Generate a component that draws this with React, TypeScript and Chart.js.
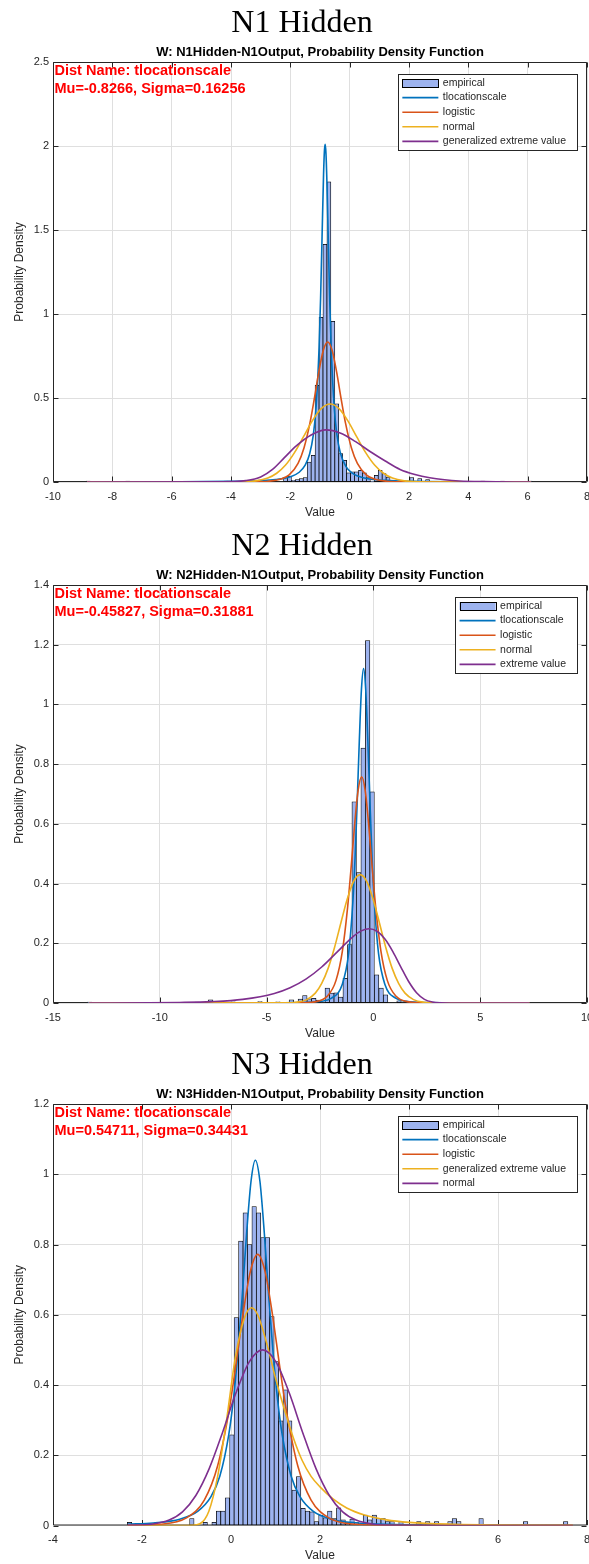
import React, { useEffect, useRef } from 'react';
import { Chart, registerables } from 'chart.js';

Chart.register(...registerables);

const SANS = '"Liberation Sans", Arial, Helvetica, sans-serif';
const SERIF = '"Liberation Serif", "Times New Roman", serif';
const AXIS_COLOR = '#262626';
const GRID_COLOR = '#dfdfdf';
const HIST_FACE = '#9db3ef';
const CURVE_COLORS = ['#0072BD', '#D95319', '#EDB120', '#7E2F8E'];

// ---------------- Panel 1 ----------------
const p1Title = 'N1 Hidden';
const p1Subtitle = 'W: N1Hidden-N1Output, Probability Density Function';
const p1Info = ['Dist Name: tlocationscale', 'Mu=-0.8266, Sigma=0.16256'];
const p1Legend = ['empirical', 'tlocationscale', 'logistic', 'normal', 'generalized extreme value'];
const p1XAxis = [-10, 8, 2];
const p1YAxis = [0, 2.5, 0.5];
const p1BinCenters = [-8.813, -7.483, -5.355, -4.158, -2.163, -2.03, -1.897, -1.764, -1.631, -1.498, -1.365, -1.232, -1.099, -0.966, -0.833, -0.7, -0.567, -0.434, -0.301, -0.168, -0.035, 0.098, 0.231, 0.364, 0.497, 0.63, 0.763, 0.896, 1.029, 1.162, 1.295, 2.093, 2.36, 2.626, 3.423, 4.487, 5.152, 6.083];
const p1BinDensity = [0.006, 0.006, 0.004, 0.006, 0.026, 0.034, 0.01, 0.014, 0.02, 0.026, 0.119, 0.159, 0.575, 0.98, 1.415, 1.786, 0.956, 0.466, 0.169, 0.129, 0.054, 0.06, 0.06, 0.069, 0.054, 0.026, 0.005, 0.04, 0.069, 0.05, 0.03, 0.026, 0.02, 0.015, 0.006, 0.006, 0.006, 0.006];
const p1TlsX = [-8.85, -6, -4, -3, -2.5, -2, -1.7, -1.5, -1.35, -1.23, -1.13, -1.03, -0.98, -0.93, -0.88, -0.85, -0.827, -0.8, -0.77, -0.72, -0.67, -0.62, -0.52, -0.43, -0.32, -0.13, 0.1, 0.5, 1.2, 2.2, 4, 6.1];
const p1TlsY = [0.0005, 0.0012, 0.0037, 0.0081, 0.0144, 0.031, 0.058, 0.1, 0.167, 0.274, 0.45, 0.804, 1.094, 1.463, 1.831, 1.974, 2.01, 1.96, 1.805, 1.433, 1.067, 0.785, 0.441, 0.282, 0.177, 0.093, 0.051, 0.024, 0.0094, 0.004, 0.0014, 0.0006];
const p1LogX = [-8.85, -4, -3.24, -2.74, -2.34, -2.04, -1.74, -1.54, -1.34, -1.19, -1.04, -0.89, -0.74, -0.59, -0.44, -0.29, -0.14, 0.06, 0.26, 0.56, 0.86, 1.26, 1.76, 3, 6.1];
const p1LogY = [0, 0.00005, 0.001, 0.0042, 0.016, 0.0426, 0.111, 0.2025, 0.35, 0.497, 0.655, 0.783, 0.833, 0.783, 0.655, 0.497, 0.35, 0.2025, 0.111, 0.0426, 0.016, 0.0042, 0.001, 0.00005, 0];
const p1NormX = [-8.85, -4.16, -3.66, -3.16, -2.76, -2.46, -2.16, -1.86, -1.56, -1.26, -0.96, -0.66, -0.36, -0.06, 0.24, 0.54, 0.84, 1.14, 1.44, 1.84, 2.34, 2.84, 6.1];
const p1NormY = [0, 0.0001, 0.001, 0.0068, 0.0235, 0.052, 0.101, 0.175, 0.268, 0.364, 0.437, 0.464, 0.437, 0.364, 0.268, 0.175, 0.101, 0.052, 0.0235, 0.0068, 0.001, 0.0001, 0];
const p1GevX = [-8.85, -4.5, -4, -3.5, -3, -2.6, -2.2, -1.8, -1.3, -0.8, -0.3, 0.2, 0.7, 1.2, 1.7, 2.2, 2.7, 3.2, 3.7, 4.5, 6.1];
const p1GevY = [0, 0.0005, 0.002, 0.008, 0.03, 0.075, 0.145, 0.215, 0.28, 0.31, 0.29, 0.24, 0.18, 0.125, 0.075, 0.045, 0.025, 0.013, 0.006, 0.002, 0];

// ---------------- Panel 2 ----------------
const p2Title = 'N2 Hidden';
const p2Subtitle = 'W: N2Hidden-N1Output, Probability Density Function';
const p2Info = ['Dist Name: tlocationscale', 'Mu=-0.45827, Sigma=0.31881'];
const p2Legend = ['empirical', 'tlocationscale', 'logistic', 'normal', 'extreme value'];
const p2XAxis = [-15, 10, 5];
const p2YAxis = [0, 1.4, 0.2];
const p2BinCenters = [-13.29, -8.25, -7.62, -6.57, -5.31, -4.47, -3.84, -3.42, -3.21, -3.0, -2.79, -2.58, -2.16, -1.95, -1.74, -1.53, -1.32, -1.11, -0.9, -0.69, -0.48, -0.27, -0.06, 0.15, 0.36, 0.57, 1.2];
const p2BinDensity = [0.003, 0.003, 0.011, 0.004, 0.005, 0.004, 0.011, 0.013, 0.025, 0.014, 0.016, 0.01, 0.05, 0.033, 0.034, 0.02, 0.083, 0.196, 0.674, 0.437, 0.854, 1.214, 0.707, 0.094, 0.05, 0.027, 0.007];
const p2TlsX = [-13.3, -8, -5.46, -3.46, -2.46, -1.96, -1.46, -1.16, -0.96, -0.86, -0.76, -0.66, -0.56, -0.46, -0.36, -0.26, -0.16, -0.06, 0.04, 0.24, 0.54, 1.04, 1.54, 2.54, 4.54, 7.3];
const p2TlsY = [0, 0.00002, 0.0002, 0.0012, 0.0057, 0.016, 0.062, 0.166, 0.34, 0.484, 0.67, 0.877, 1.05, 1.12, 1.05, 0.877, 0.67, 0.484, 0.34, 0.166, 0.062, 0.016, 0.0057, 0.0012, 0.0002, 0.00005];
const p2LogX = [-13.3, -3.55, -2.75, -2.15, -1.75, -1.45, -1.21, -1.05, -0.88, -0.715, -0.55, -0.385, -0.22, -0.05, 0.11, 0.35, 0.65, 1.05, 1.65, 2.45, 7.3];
const p2LogY = [0, 0.0003, 0.0038, 0.0233, 0.0758, 0.1747, 0.3185, 0.448, 0.596, 0.712, 0.758, 0.712, 0.596, 0.448, 0.3185, 0.1747, 0.0758, 0.0233, 0.0038, 0.0003, 0];
const p2NormX = [-13.3, -4.12, -3.62, -3.12, -2.72, -2.42, -2.12, -1.82, -1.52, -1.22, -0.92, -0.62, -0.32, -0.02, 0.28, 0.58, 0.88, 1.18, 1.48, 1.88, 2.38, 2.88, 7.3];
const p2NormY = [0, 0.0003, 0.0023, 0.0114, 0.033, 0.066, 0.116, 0.186, 0.269, 0.349, 0.408, 0.43, 0.408, 0.349, 0.269, 0.186, 0.116, 0.066, 0.033, 0.0114, 0.0023, 0.0003, 0];
const p2EvX = [-13.3, -10.5, -9.08, -7.6, -6.12, -4.64, -3.9, -3.16, -2.42, -1.68, -0.94, -0.57, -0.2, 0.17, 0.54, 0.91, 1.28, 1.65, 2.02, 2.39, 2.76, 3.13, 3.6, 7.3];
const p2EvY = [0.0001, 0.0006, 0.0017, 0.0045, 0.0122, 0.032, 0.0511, 0.0799, 0.1206, 0.172, 0.2234, 0.2415, 0.2486, 0.2403, 0.2142, 0.1722, 0.1212, 0.072, 0.0343, 0.0123, 0.0031, 0.0005, 0, 0];

// ---------------- Panel 3 ----------------
const p3Title = 'N3 Hidden';
const p3Subtitle = 'W: N3Hidden-N1Output, Probability Density Function';
const p3Info = ['Dist Name: tlocationscale', 'Mu=0.54711, Sigma=0.34431'];
const p3Legend = ['empirical', 'tlocationscale', 'logistic', 'generalized extreme value', 'normal'];
const p3XAxis = [-4, 8, 2];
const p3YAxis = [0, 1.2, 0.2];
const p3BinCenters = [-2.28, -0.88, -0.58, -0.38, -0.28, -0.18, -0.08, 0.02, 0.12, 0.22, 0.32, 0.42, 0.52, 0.62, 0.72, 0.82, 0.92, 1.02, 1.12, 1.22, 1.32, 1.42, 1.52, 1.62, 1.72, 1.82, 1.92, 2.02, 2.12, 2.22, 2.32, 2.42, 2.52, 2.62, 2.72, 2.82, 3.02, 3.12, 3.22, 3.32, 3.42, 3.52, 3.62, 3.82, 4.22, 4.42, 4.62, 4.92, 5.02, 5.12, 5.62, 6.62, 7.52];
const p3BinDensity = [0.009, 0.02, 0.009, 0.009, 0.041, 0.041, 0.079, 0.258, 0.592, 0.81, 0.89, 0.8, 0.908, 0.89, 0.82, 0.82, 0.595, 0.467, 0.298, 0.386, 0.298, 0.101, 0.139, 0.049, 0.041, 0.039, 0.011, 0.03, 0.022, 0.041, 0.02, 0.05, 0.016, 0.008, 0.018, 0.008, 0.03, 0.016, 0.03, 0.02, 0.02, 0.011, 0.011, 0.011, 0.011, 0.011, 0.011, 0.011, 0.02, 0.011, 0.02, 0.011, 0.011];
const p3TlsX = [-2.32, -1.75, -1.15, -0.75, -0.45, -0.25, -0.05, 0.05, 0.15, 0.25, 0.35, 0.45, 0.547, 0.65, 0.75, 0.85, 0.95, 1.05, 1.15, 1.35, 1.55, 1.85, 2.25, 2.85, 3.55, 5.55, 7.68];
const p3TlsY = [0.0035, 0.0072, 0.018, 0.04, 0.082, 0.141, 0.259, 0.355, 0.485, 0.649, 0.83, 0.98, 1.04, 0.98, 0.83, 0.649, 0.485, 0.355, 0.259, 0.141, 0.082, 0.04, 0.018, 0.0072, 0.0031, 0.0006, 0.0002];
const p3LogX = [-2.32, -1.6, -1.0, -0.6, -0.3, -0.048, 0.1, 0.276, 0.438, 0.6, 0.762, 0.924, 1.1, 1.248, 1.5, 1.8, 2.2, 2.8, 3.6, 7.68];
const p3LogY = [0.0004, 0.0035, 0.0218, 0.0724, 0.17, 0.324, 0.448, 0.607, 0.725, 0.772, 0.725, 0.607, 0.448, 0.324, 0.17, 0.0724, 0.0218, 0.0035, 0.0003, 0];
const p3GevX = [-2.32, -1.0, -0.9, -0.7, -0.5, -0.3, -0.1, 0.1, 0.3, 0.46, 0.6, 0.8, 1.0, 1.2, 1.4, 1.6, 1.8, 2.0, 2.3, 2.6, 3.0, 3.5, 4.0, 5.0, 6.0, 7.68];
const p3GevY = [0, 0, 0.0005, 0.005, 0.04, 0.14, 0.3, 0.48, 0.59, 0.62, 0.6, 0.52, 0.42, 0.33, 0.25, 0.185, 0.14, 0.11, 0.075, 0.05, 0.03, 0.016, 0.009, 0.0035, 0.0015, 0.0006];
const p3NormX = [-2.32, -1.79, -1.39, -1.09, -0.79, -0.49, -0.19, 0.11, 0.41, 0.71, 1.01, 1.31, 1.61, 1.91, 2.21, 2.51, 2.81, 3.21, 3.71, 4.2, 7.68];
const p3NormY = [0.0003, 0.0037, 0.0157, 0.039, 0.0855, 0.162, 0.265, 0.377, 0.466, 0.5, 0.466, 0.377, 0.265, 0.162, 0.0855, 0.039, 0.0157, 0.0037, 0.0004, 0, 0];

type Curve = { x: number[]; y: number[] };
type PanelDef = {
  top: number;
  height: number;
  axisH: number;
  title: string;
  subtitle: string;
  info: string[];
  legend: string[];
  xAxis: number[];
  yAxis: number[];
  centers: number[];
  density: number[];
  curves: Curve[];
};

const PANELS: PanelDef[] = [
  {
    top: 0, height: 521, axisH: 39,
    title: p1Title, subtitle: p1Subtitle, info: p1Info, legend: p1Legend,
    xAxis: p1XAxis, yAxis: p1YAxis, centers: p1BinCenters, density: p1BinDensity,
    curves: [
      { x: p1TlsX, y: p1TlsY },
      { x: p1LogX, y: p1LogY },
      { x: p1NormX, y: p1NormY },
      { x: p1GevX, y: p1GevY },
    ],
  },
  {
    top: 523, height: 519, axisH: 39,
    title: p2Title, subtitle: p2Subtitle, info: p2Info, legend: p2Legend,
    xAxis: p2XAxis, yAxis: p2YAxis, centers: p2BinCenters, density: p2BinDensity,
    curves: [
      { x: p2TlsX, y: p2TlsY },
      { x: p2LogX, y: p2LogY },
      { x: p2NormX, y: p2NormY },
      { x: p2EvX, y: p2EvY },
    ],
  },
  {
    top: 1042, height: 522, axisH: 38.5,
    title: p3Title, subtitle: p3Subtitle, info: p3Info, legend: p3Legend,
    xAxis: p3XAxis, yAxis: p3YAxis, centers: p3BinCenters, density: p3BinDensity,
    curves: [
      { x: p3TlsX, y: p3TlsY },
      { x: p3LogX, y: p3LogY },
      { x: p3GevX, y: p3GevY },
      { x: p3NormX, y: p3NormY },
    ],
  },
];

const fmt = (v: any) => String(+(+v).toFixed(2));

function makeDecor(p: PanelDef) {
  return {
    id: 'matlabDecor',
    beforeDatasetsDraw(chart: any) {
      const { ctx, chartArea: a, scales } = chart;
      ctx.save();
      ctx.strokeStyle = AXIS_COLOR;
      ctx.lineWidth = 1;
      ctx.beginPath();
      const L = a.left + 0.5;
      const R = a.right - 0.5;
      const T = a.top + 0.5;
      const B = a.bottom - 0.5;
      ctx.rect(L, T, R - L, B - T);
      const tl = 5;
      for (const t of scales.x.ticks) {
        const px = Math.round(scales.x.getPixelForValue(t.value)) + 0.5;
        ctx.moveTo(px, B);
        ctx.lineTo(px, B - tl);
        ctx.moveTo(px, T);
        ctx.lineTo(px, T + tl);
      }
      for (const t of scales.y.ticks) {
        const py = Math.round(scales.y.getPixelForValue(t.value)) + 0.5;
        ctx.moveTo(L, py);
        ctx.lineTo(L + tl, py);
        ctx.moveTo(R, py);
        ctx.lineTo(R - tl, py);
      }
      ctx.stroke();
      ctx.restore();
    },
    afterDatasetsDraw(chart: any) {
      const { ctx, chartArea: a } = chart;
      ctx.save();
      ctx.fillStyle = '#ff0000';
      ctx.font = `bold 14.5px ${SANS}`;
      ctx.textAlign = 'left';
      ctx.textBaseline = 'middle';
      ctx.fillText(p.info[0], a.left + 1.5, a.top + 8.5);
      ctx.fillText(p.info[1], a.left + 1.5, a.top + 26.5);

      ctx.font = `10.5px ${SANS}`;
      const widths = p.legend.map((l) => ctx.measureText(l).width);
      const maxW = Math.max(...widths);
      const rowH = 14.6;
      const boxW = 45 + maxW + 11;
      const right = a.right - 10;
      const left = right - boxW;
      const top = a.top + 12;
      const boxH = 9 + (p.legend.length - 1) * rowH + 8.5;
      ctx.fillStyle = '#ffffff';
      ctx.fillRect(left, top, boxW, boxH);
      ctx.strokeStyle = AXIS_COLOR;
      ctx.lineWidth = 1;
      ctx.strokeRect(Math.round(left) + 0.5, Math.round(top) + 0.5, Math.round(boxW), Math.round(boxH));
      p.legend.forEach((label, i) => {
        const cy = top + 9 + i * rowH;
        if (i === 0) {
          ctx.fillStyle = HIST_FACE;
          ctx.fillRect(left + 4.5, cy - 4, 36, 8);
          ctx.strokeStyle = '#000000';
          ctx.lineWidth = 1;
          ctx.strokeRect(Math.round(left + 4.5) + 0.5, Math.round(cy - 4) + 0.5, 36, 8);
        } else {
          ctx.strokeStyle = CURVE_COLORS[i - 1];
          ctx.lineWidth = 1.6;
          ctx.beginPath();
          ctx.moveTo(left + 4.5, cy);
          ctx.lineTo(left + 40.5, cy);
          ctx.stroke();
        }
        ctx.fillStyle = AXIS_COLOR;
        ctx.textBaseline = 'middle';
        ctx.fillText(label, left + 45, cy);
      });
      ctx.restore();
    },
    afterDraw(chart: any) {
      const { ctx, chartArea: a } = chart;
      ctx.save();
      ctx.fillStyle = '#000000';
      ctx.textAlign = 'center';
      ctx.textBaseline = 'middle';
      ctx.font = `32px ${SERIF}`;
      ctx.fillText(p.title, 302, 23.5);
      ctx.font = `bold 13px ${SANS}`;
      ctx.fillText(p.subtitle, (a.left + a.right) / 2, 52);
      ctx.restore();
    },
  };
}

function PanelChart({ p }: { p: PanelDef }) {
  const ref = useRef<HTMLCanvasElement | null>(null);
  useEffect(() => {
    if (!ref.current) return;
    const datasets: any[] = p.curves.map((c, i) => ({
      type: 'line',
      data: c.x.map((x, j) => ({ x, y: c.y[j] })),
      borderColor: CURVE_COLORS[i],
      borderWidth: 1.6,
      pointRadius: 0,
      fill: false,
      cubicInterpolationMode: 'monotone',
      order: 4 - i,
    }));
    datasets.push({
      type: 'bar',
      data: p.centers.map((x, i) => ({ x, y: p.density[i] })),
      backgroundColor: HIST_FACE,
      borderColor: '#000000',
      borderWidth: 0.75,
      borderSkipped: false,
      barPercentage: 1,
      categoryPercentage: 1,
      order: 10,
    });
    const tickFont = { family: SANS, size: 11 };
    const labelFont = { family: SANS, size: 12 };
    const chart = new Chart(ref.current, {
      type: 'bar',
      data: { datasets },
      options: {
        responsive: false,
        animation: false,
        devicePixelRatio: 1,
        events: [],
        layout: { padding: { top: 62, right: 2, left: 0, bottom: 0 } },
        plugins: {
          legend: { display: false },
          tooltip: { enabled: false },
          title: { display: false },
        },
        scales: {
          x: {
            type: 'linear',
            min: p.xAxis[0],
            max: p.xAxis[1],
            offset: false,
            ticks: {
              stepSize: p.xAxis[2],
              color: AXIS_COLOR,
              font: tickFont,
              padding: 8,
              maxRotation: 0,
              autoSkip: false,
              callback: fmt,
            },
            grid: { color: GRID_COLOR, drawTicks: false, offset: false, lineWidth: 1 },
            border: { display: false },
            title: {
              display: true,
              text: 'Value',
              color: AXIS_COLOR,
              font: labelFont,
              padding: { top: 0, bottom: 1 },
            },
            afterFit: (s: any) => {
              s.height = p.axisH;
              s.paddingLeft = 0;
              s.paddingRight = 0;
            },
          },
          y: {
            type: 'linear',
            min: p.yAxis[0],
            max: p.yAxis[1],
            ticks: {
              stepSize: p.yAxis[2],
              color: AXIS_COLOR,
              font: tickFont,
              padding: 4,
              autoSkip: false,
              callback: fmt,
            },
            grid: { color: GRID_COLOR, drawTicks: false, lineWidth: 1 },
            border: { display: false },
            title: {
              display: true,
              text: 'Probability Density',
              color: AXIS_COLOR,
              font: labelFont,
              padding: { top: 12, bottom: 0 },
            },
            afterFit: (s: any) => {
              s.width = 53;
              s.paddingTop = 0;
              s.paddingBottom = 0;
            },
          },
        },
      } as any,
      plugins: [makeDecor(p)],
    } as any);
    return () => chart.destroy();
  }, [p]);
  return (
    <canvas
      ref={ref}
      width={589}
      height={p.height}
      style={{ position: 'absolute', left: 0, top: p.top, width: 589, height: p.height, display: 'block' }}
    />
  );
}

export default function App() {
  return (
    <div style={{ position: 'absolute', left: 0, top: 0, width: 589, height: 1564, background: '#ffffff', overflow: 'hidden' }}>
      {PANELS.map((p, i) => (
        <PanelChart key={i} p={p} />
      ))}
    </div>
  );
}
